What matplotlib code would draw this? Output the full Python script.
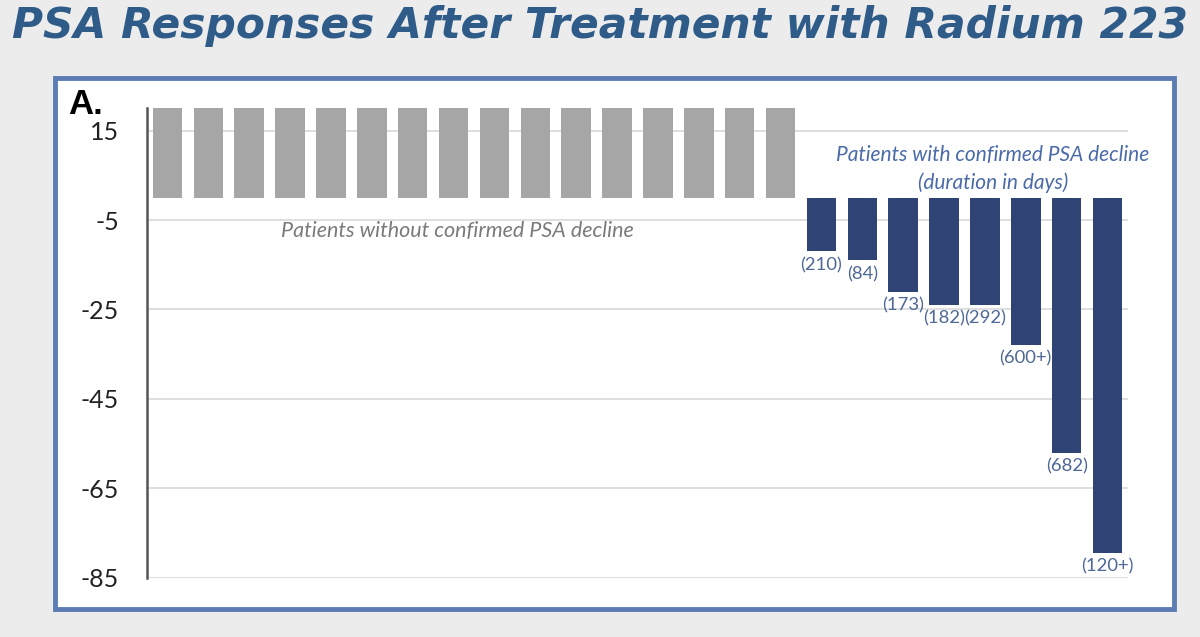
import matplotlib
matplotlib.use("Agg")
import matplotlib.pyplot as plt
from matplotlib.patches import Rectangle

# ---- data ----
gray_values = [20] * 16
blue_values = [-12, -14, -21, -24, -24, -33, -57, -79.5]
blue_labels = ["(210)", "(84)", "(173)", "(182)", "(292)", "(600+)", "(682)", "(120+)"]
yticks = [15, -5, -25, -45, -65, -85]
title = "PSA Responses After Treatment with Radium 223"
note_gray = "Patients without confirmed PSA decline"
note_blue = "Patients with confirmed PSA decline\n(duration in days)"

GRAY = "#a6a6a6"
BLUE = "#2f4475"
LABEL_BLUE = "#4d6796"
TITLE_BLUE = "#2f5b88"
FONT = ["Lato", "DejaVu Sans"]

fig = plt.figure(figsize=(12, 6.37), dpi=100)
fig.patch.set_facecolor("#ececec")

# panel
panel = Rectangle((55 / 1200, 1 - 609 / 637), (1174 - 55) / 1200, (609 - 78) / 637,
                  transform=fig.transFigure, facecolor="white", edgecolor="#5b7db3",
                  linewidth=3.5, zorder=0)
fig.add_artist(panel)

ax = fig.add_axes([147 / 1200, 1 - 577.7 / 637, (1128 - 147) / 1200, (577.7 - 108.3) / 637])
ax.set_facecolor("none")

n_gray = len(gray_values)
xg = list(range(n_gray))
xb = list(range(n_gray, n_gray + len(blue_values)))
ax.bar(xg, gray_values, width=0.72, color=GRAY, zorder=3)
ax.bar(xb, blue_values, width=0.72, color=BLUE, zorder=3)

for x, v, lab in zip(xb, blue_values, blue_labels):
    ax.annotate(lab, (x, v), xytext=(0, -4), textcoords="offset points",
                ha="center", va="top", fontsize=13.3, color=LABEL_BLUE, family=FONT)

ax.set_xlim(-0.5, n_gray + len(blue_values) - 0.5)
ax.set_ylim(-85, 20)
ax.set_yticks(yticks)
ax.set_yticklabels([str(t) for t in yticks], family=FONT, fontsize=18, color="#222222")
ax.tick_params(axis="y", length=0, pad=20)
ax.set_xticks([])
ax.grid(axis="y", color="#d9d9d9", linewidth=1.2, zorder=0)
for s in ["top", "right", "bottom"]:
    ax.spines[s].set_visible(False)
ax.spines["left"].set_color("#555555")
ax.spines["left"].set_linewidth(1.8)

ax.text(7.1, -7.4, note_gray, ha="center", va="center", fontsize=15.5,
        style="italic", color="#7a7a7a", family=FONT)
ax.text(20.2, 6.4, note_blue, ha="center", va="center", fontsize=15,
        style="italic", color="#4a6aa8", family=FONT, linespacing=1.4)

fig.text(68 / 1200, 1 - 104 / 637, "A.", fontsize=25, fontweight="bold",
         color="black", family="Liberation Sans", ha="left", va="center")

fig.text(0.5, 1 - 26 / 637, title, ha="center", va="center", fontsize=30.5,
         fontweight="bold", style="italic", color=TITLE_BLUE, family="DejaVu Sans")

fig.savefig("out.png", dpi=100, facecolor=fig.get_facecolor())
